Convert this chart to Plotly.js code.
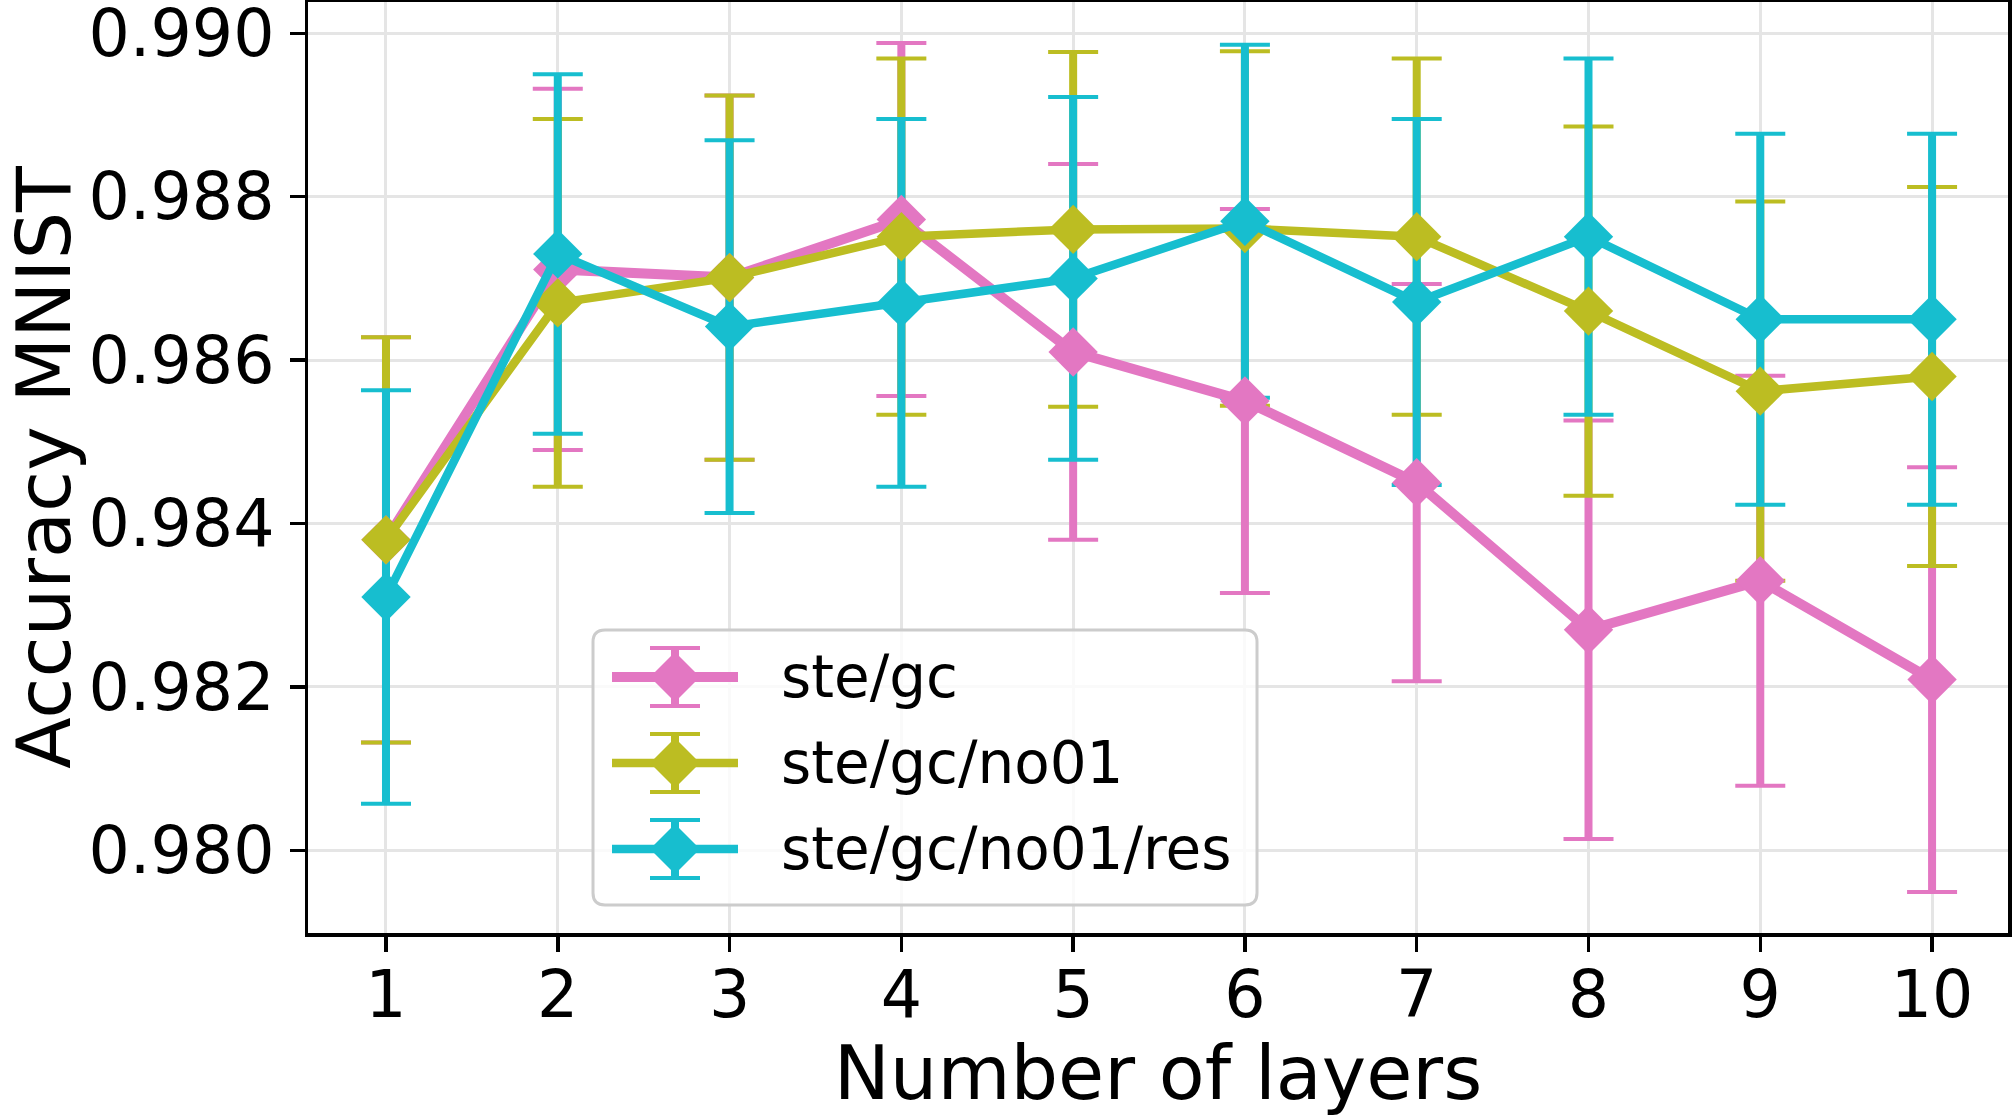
<!DOCTYPE html>
<html>
<head>
<meta charset="utf-8">
<script src="https://cdn.plot.ly/plotly-3.0.1.min.js"></script>
<style>
  html, body { margin: 0; padding: 0; background: #ffffff; }
  #chart { width: 2012px; height: 1117px; }
</style>
</head>
<body>
<div id="chart"></div>
<script>
// Number of layers on the x axis
const layers = [1, 2, 3, 4, 5, 6, 7, 8, 9, 10];

// Mean MNIST accuracy and its spread for each configuration
const steGc       = [0.98380, 0.98711, 0.98701, 0.98772, 0.98610, 0.98550, 0.98450, 0.98270, 0.98330, 0.98209];
const steGcErr    = [0.00248, 0.00221, 0.00223, 0.00216, 0.00230, 0.00235, 0.00243, 0.00256, 0.00251, 0.00260];

const steGcNo01    = [0.98380, 0.98670, 0.98701, 0.98751, 0.98760, 0.98761, 0.98751, 0.98660, 0.98562, 0.98580];
const steGcNo01Err = [0.00248, 0.00225, 0.00223, 0.00218, 0.00217, 0.00217, 0.00218, 0.00226, 0.00232, 0.00232];

const steGcNo01Res    = [0.98310, 0.98730, 0.98641, 0.98670, 0.98700, 0.98770, 0.98671, 0.98751, 0.98650, 0.98650];
const steGcNo01ResErr = [0.00253, 0.00220, 0.00228, 0.00225, 0.00222, 0.00216, 0.00224, 0.00218, 0.00227, 0.00227];

const seriesNames  = ['ste/gc', 'ste/gc/no01', 'ste/gc/no01/res'];
const seriesColors = ['#e377c2', '#bcbd22', '#17becf'];
const lineWidths   = [10, 8.5, 8.5];

const yTicks = [0.980, 0.982, 0.984, 0.986, 0.988, 0.990];

const values = [steGc, steGcNo01, steGcNo01Res];
const errors = [steGcErr, steGcNo01Err, steGcNo01ResErr];

const FONT = 'DejaVu Sans, Liberation Sans, sans-serif';
const W = 2012, H = 1117;
const PL = 308, PR = 2008, PT = 2, PB = 933;

const traces = [];

// Error bars sit underneath every line and marker: a thick stem plus a thinner capped bar
values.forEach((vals, i) => {
  traces.push({
    type: 'scatter', mode: 'markers', x: layers, y: vals,
    marker: { size: 1, color: 'rgba(0,0,0,0)' },
    error_y: { type: 'data', array: errors[i], visible: true,
               color: seriesColors[i], thickness: 8, width: 0 },
    hoverinfo: 'skip', showlegend: false
  });
  traces.push({
    type: 'scatter', mode: 'markers', x: layers, y: vals,
    marker: { size: 1, color: 'rgba(0,0,0,0)' },
    error_y: { type: 'data', array: errors[i], visible: true,
               color: seriesColors[i], thickness: 4, width: 25 },
    hoverinfo: 'skip', showlegend: false
  });
});

// Lines with diamond markers
values.forEach((vals, i) => {
  traces.push({
    type: 'scatter', mode: 'lines+markers', name: seriesNames[i],
    x: layers, y: vals,
    line: { color: seriesColors[i], width: lineWidths[i] },
    marker: { symbol: 'diamond', size: 38, color: seriesColors[i], line: { width: 0 } },
    showlegend: false
  });
});

// Legend box drawn in pixel units, converted to paper fractions
const fx = px => (px - PL) / (PR - PL);
const fy = py => (PB - py) / (PB - PT);
const P = (x, y) => fx(x).toFixed(5) + ',' + fy(y).toFixed(5);

const shapes = [];
const annotations = [];

const bx0 = 593, by0 = 630, bx1 = 1257, by1 = 905, r = 12;
shapes.push({
  type: 'path', xref: 'paper', yref: 'paper',
  path: 'M' + P(bx0 + r, by0) + ' L' + P(bx1 - r, by0) + ' Q' + P(bx1, by0) + ' ' + P(bx1, by0 + r) +
        ' L' + P(bx1, by1 - r) + ' Q' + P(bx1, by1) + ' ' + P(bx1 - r, by1) +
        ' L' + P(bx0 + r, by1) + ' Q' + P(bx0, by1) + ' ' + P(bx0, by1 - r) +
        ' L' + P(bx0, by0 + r) + ' Q' + P(bx0, by0) + ' ' + P(bx0 + r, by0) + ' Z',
  fillcolor: 'rgba(255,255,255,0.8)',
  line: { color: '#cccccc', width: 3 }
});

seriesNames.forEach((name, i) => {
  const cy = 677 + 86 * i;
  const cx = 675;
  const c = seriesColors[i];
  // horizontal line sample
  shapes.push({ type: 'line', xref: 'paper', yref: 'paper',
    x0: fx(612), x1: fx(738), y0: fy(cy), y1: fy(cy),
    line: { color: c, width: lineWidths[i] } });
  // error stem
  shapes.push({ type: 'line', xref: 'paper', yref: 'paper',
    x0: fx(cx), x1: fx(cx), y0: fy(cy - 29), y1: fy(cy + 29),
    line: { color: c, width: 8 } });
  // caps
  [cy - 29, cy + 29].forEach(yy => {
    shapes.push({ type: 'line', xref: 'paper', yref: 'paper',
      x0: fx(cx - 25), x1: fx(cx + 25), y0: fy(yy), y1: fy(yy),
      line: { color: c, width: 4 } });
  });
  // diamond
  shapes.push({ type: 'path', xref: 'paper', yref: 'paper',
    path: 'M' + P(cx, cy - 25) + ' L' + P(cx + 25, cy) + ' L' + P(cx, cy + 25) + ' L' + P(cx - 25, cy) + ' Z',
    fillcolor: c, line: { width: 0 } });
  annotations.push({
    xref: 'paper', yref: 'paper', x: fx(779), y: fy(cy),
    xanchor: 'left', yanchor: 'middle', showarrow: false,
    text: name, font: { family: FONT, size: 58, color: '#000000' }
  });
});

const layout = {
  width: W, height: H,
  margin: { l: PL, r: W - PR, t: PT, b: H - PB, pad: 0 },
  paper_bgcolor: '#ffffff',
  plot_bgcolor: '#ffffff',
  showlegend: false,
  font: { family: FONT, color: '#000000' },
  xaxis: {
    range: [0.546, 10.442],
    tickmode: 'array', tickvals: layers, ticktext: layers.map(String),
    ticks: 'outside', ticklen: 15, tickwidth: 3.5, tickcolor: '#000000',
    ticklabelstandoff: -13, ticklabeloverflow: 'allow',
    showline: true, linecolor: '#000000', linewidth: 3.5, mirror: true,
    showgrid: true, gridcolor: '#e5e5e5', gridwidth: 3,
    zeroline: false,
    tickfont: { family: FONT, size: 65, color: '#000000' },
    title: { text: 'Number of layers', font: { family: FONT, size: 75, color: '#000000' }, standoff: 20 },
    automargin: false
  },
  yaxis: {
    range: [0.978988, 0.990383],
    tickmode: 'array', tickvals: yTicks, ticktext: yTicks.map(v => v.toFixed(3)),
    ticks: 'outside', ticklen: 15, tickwidth: 3.5, tickcolor: '#000000',
    ticklabelstandoff: 2, ticklabeloverflow: 'allow',
    showline: true, linecolor: '#000000', linewidth: 3.5, mirror: true,
    showgrid: true, gridcolor: '#e5e5e5', gridwidth: 3,
    zeroline: false,
    tickfont: { family: FONT, size: 65, color: '#000000' },
    title: { text: 'Accuracy MNIST', font: { family: FONT, size: 75, color: '#000000' }, standoff: 30 },
    automargin: false
  },
  shapes: shapes,
  annotations: annotations
};

Plotly.newPlot('chart', traces, layout, { staticPlot: true, displayModeBar: false });
</script>
</body>
</html>
